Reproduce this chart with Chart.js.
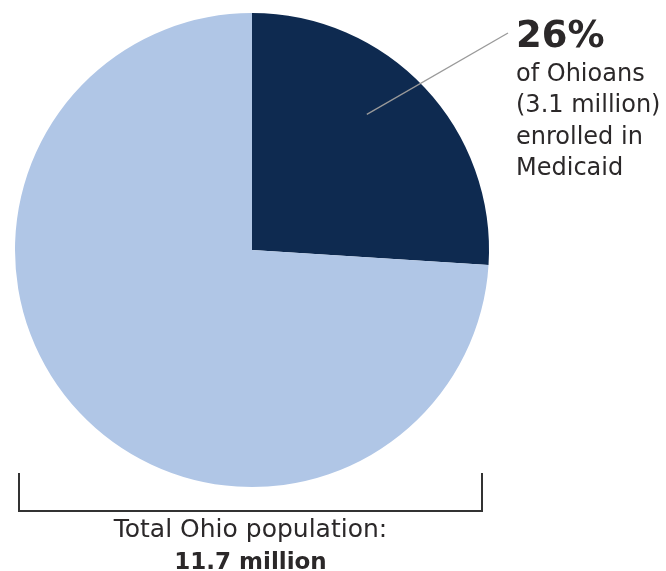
<!DOCTYPE html>
<html>
<head>
<meta charset="utf-8">
<script src="https://cdn.jsdelivr.net/npm/chart.js@4/dist/chart.umd.min.js"></script>
<style>
  html, body { margin: 0; padding: 0; background: #ffffff; }
  #wrap { width: 666px; height: 571px; position: relative; }
</style>
</head>
<body>
<div id="wrap"><canvas id="c" width="666" height="571"></canvas></div>
<script>
const categories = ["Enrolled in Medicaid", "Not enrolled in Medicaid"];
const shares = [26, 74];
const sliceColors = ["#0e2a50", "#b0c6e6"];
const calloutBig = "26%";
const calloutLines = ["of Ohioans", "(3.1 million)", "enrolled in", "Medicaid"];
const totalLabel = "Total Ohio population:";
const totalValue = "11.7 million";

const FONT = "'DejaVu Sans', sans-serif";
const INK = "#2b2829";

const annotate = {
  id: "annotate",
  afterDraw(chart) {
    const ctx = chart.ctx;
    const arc = chart.getDatasetMeta(0).data[0];
    const cx = arc.x, cy = arc.y, r = arc.outerRadius;
    ctx.save();

    // leader line from inside dark slice to the callout
    const a = arc.startAngle + 0.43 * (arc.endAngle - arc.startAngle);
    const x0 = cx + Math.cos(a) * r * 0.75;
    const y0 = cy + Math.sin(a) * r * 0.75;
    ctx.strokeStyle = "#9a9a9a";
    ctx.lineWidth = 1.3;
    ctx.beginPath();
    ctx.moveTo(x0, y0);
    ctx.lineTo(cx + r + 19, cy - r + 20);
    ctx.stroke();

    // callout text
    const tx = cx + r + 27;
    ctx.fillStyle = INK;
    ctx.textAlign = "left";
    ctx.textBaseline = "alphabetic";
    ctx.font = "bold 37px " + FONT;
    ctx.fillText(calloutBig, tx, cy - r + 34);
    ctx.font = "24px " + FONT;
    calloutLines.forEach((t, i) => ctx.fillText(t, tx, cy - r + 68 + i * 31.3));

    // bracket below the pie
    const bl = cx - r + 4, br = cx + r - 7, by = cy + r + 24;
    ctx.strokeStyle = "#333333";
    ctx.lineWidth = 2;
    ctx.beginPath();
    ctx.moveTo(bl, by - 38);
    ctx.lineTo(bl, by + 1);
    ctx.moveTo(bl - 1, by);
    ctx.lineTo(br + 1, by);
    ctx.moveTo(br, by + 1);
    ctx.lineTo(br, by - 38);
    ctx.stroke();

    // total label
    const mx = (bl + br) / 2;
    ctx.textAlign = "center";
    ctx.font = "25px " + FONT;
    ctx.fillText(totalLabel, mx, by + 26);
    ctx.font = "bold 23px " + FONT;
    ctx.fillText(totalValue, mx, by + 58);
    ctx.restore();
  }
};

new Chart(document.getElementById("c"), {
  type: "pie",
  data: {
    labels: categories,
    datasets: [{
      data: shares,
      backgroundColor: sliceColors,
      borderWidth: 0,
      hoverOffset: 0
    }]
  },
  options: {
    responsive: false,
    animation: false,
    events: [],
    layout: { padding: { left: 15, top: 13, right: 177, bottom: 84 } },
    plugins: {
      legend: { display: false },
      tooltip: { enabled: false },
      title: { display: false }
    }
  },
  plugins: [annotate]
});
</script>
</body>
</html>
